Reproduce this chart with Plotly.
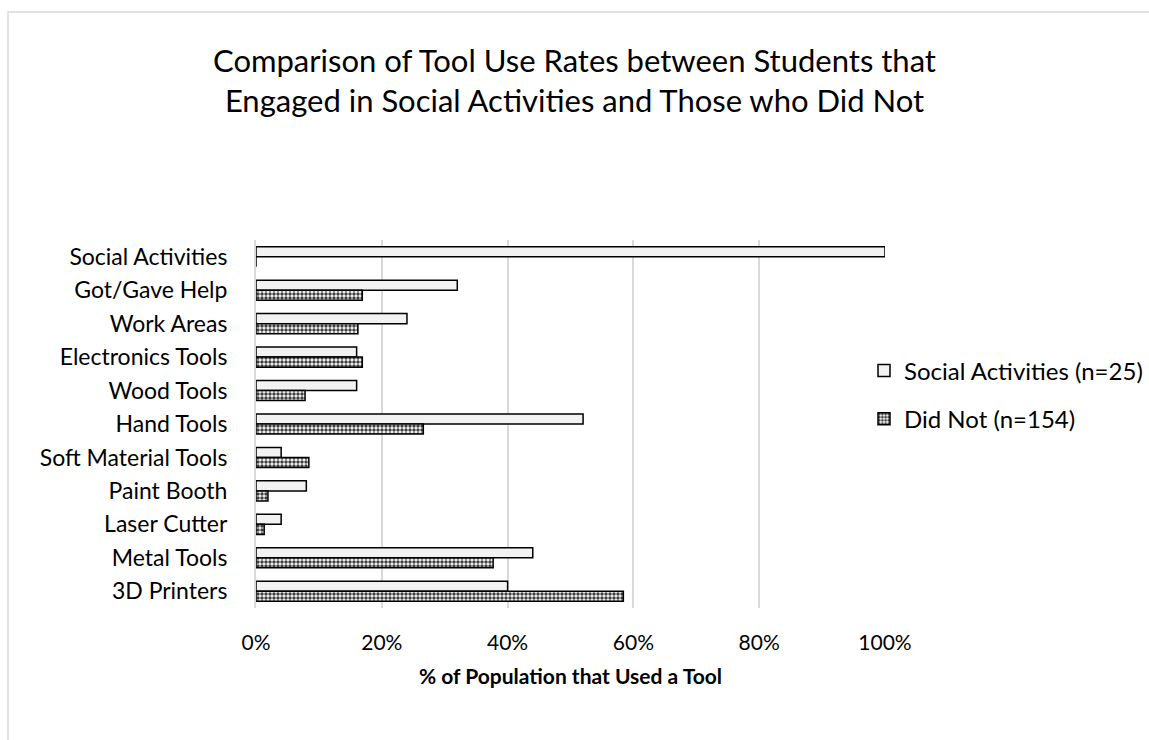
import plotly.graph_objects as go

# Tool categories, listed top to bottom
categories = [
    "Social Activities", "Got/Gave Help", "Work Areas", "Electronics Tools",
    "Wood Tools", "Hand Tools", "Soft Material Tools", "Paint Booth",
    "Laser Cutter", "Metal Tools", "3D Printers",
]
# Share of students using each tool (fractions)
social_rates = [1.00, 0.32, 0.24, 0.16, 0.16, 0.52, 0.04, 0.08, 0.04, 0.44, 0.40]
did_not_rates = [0.0, 0.169, 0.162, 0.169, 0.078, 0.266, 0.084, 0.019, 0.013, 0.377, 0.584]

series_names = ["Social Activities (n=25)", "Did Not (n=154)"]
x_ticks = [0, 0.2, 0.4, 0.6, 0.8, 1.0]
x_tick_text = ["0%", "20%", "40%", "60%", "80%", "100%"]

FONT = "Lato, Calibri, Carlito, sans-serif"

fig = go.Figure()
fig.add_trace(go.Bar(
    y=categories, x=social_rates, orientation="h", name=series_names[0],
    legendgroup="a",
    marker=dict(color="#f2f2f2", line=dict(color="#000000", width=1.5)),
))
fig.add_trace(go.Bar(
    y=categories, x=did_not_rates, orientation="h", name=series_names[1],
    legendgroup="b",
    marker=dict(
        color="#ffffff",
        line=dict(color="#000000", width=1.5),
        pattern=dict(shape=".", size=4, solidity=0.6, fgcolor="#404040",
                     bgcolor="#ffffff", fillmode="replace"),
    ),
))

fig.update_layout(
    width=1149, height=740,
    paper_bgcolor="#ffffff", plot_bgcolor="#ffffff",
    margin=dict(l=256, r=264, t=240, b=132, autoexpand=False),
    barmode="group", bargap=0.4, bargroupgap=0.0,
    font=dict(family=FONT, color="#000000"),
    title=dict(
        text="Comparison of Tool Use Rates between Students that<br>Engaged in Social Activities and Those who Did Not",
        x=0.5, xref="container", xanchor="center",
        y=(740 - 72) / 740, yref="container", yanchor="middle",
        font=dict(family=FONT, size=31, color="#000000"),
    ),
    xaxis=dict(
        range=[0, 1.0], tickvals=x_ticks, ticktext=x_tick_text,
        showgrid=True, gridcolor="#d9d9d9", gridwidth=2,
        zeroline=False, showline=False, ticks="",
        tickfont=dict(family=FONT, size=21, color="#000000"),
        ticklabelstandoff=20,
        title=dict(text="<b>% of Population that Used a Tool</b>",
                   font=dict(family=FONT, size=21, color="#000000"), standoff=16),
    ),
    yaxis=dict(
        autorange="reversed", showgrid=False, zeroline=False,
        showline=True, linecolor="#d9d9d9", linewidth=2, ticks="",
        tickfont=dict(family=FONT, size=23, color="#000000"),
        ticklabelstandoff=22,
    ),
    legend=dict(
        x=(864 - 256) / 629, xanchor="left", y=0.579, yanchor="middle",
        font=dict(family=FONT, size=24, color="#000000"),
        tracegroupgap=14, itemwidth=30, bgcolor="rgba(0,0,0,0)",
    ),
    showlegend=True,
)

# Light chart frame
fig.add_shape(type="rect", xref="paper", yref="paper",
              x0=(8 - 256) / 629, x1=1.6, y0=-0.5, y1=(608 - 12) / 368,
              line=dict(color="#d9d9d9", width=1.5), fillcolor="rgba(0,0,0,0)",
              layer="below")

fig.write_html("out.html")
